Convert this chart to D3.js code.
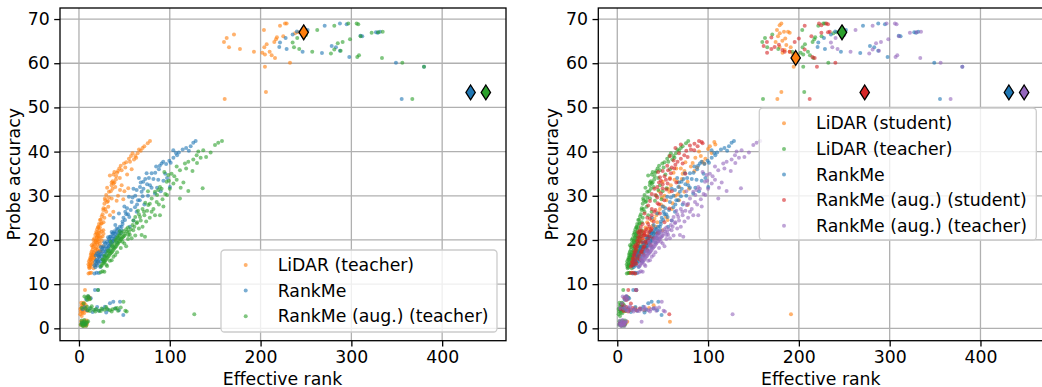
<!DOCTYPE html>
<html>
<head>
<meta charset="utf-8">
<script src="https://cdn.jsdelivr.net/npm/d3@7"></script>
<style>
  html, body { margin: 0; padding: 0; background: #fff; }
  svg { display: block; font-family: "DejaVu Sans", sans-serif; }
</style>
</head>
<body>
<svg id="chart" width="1042" height="387"></svg>
<script>
// Effective rank vs. probe accuracy for each checkpoint, one array per metric/model.
const xTicks = [0, 100, 200, 300, 400];
const yTicks = [0, 10, 20, 30, 40, 50, 60, 70];
const xLabel = "Effective rank";
const yLabel = "Probe accuracy";

// LiDAR (teacher)
const lidarTeacher = [
  [159.7,64.8],[162.7,65.7],[170.7,66.5],[165.2,63.6],[177.3,63.2],[192.7,62.6],[201.9,62.4],[204.1,63.6],[206.7,64.3],[203.7,67.5],
  [215.1,64.8],[217,65.4],[221.4,68.5],[226.9,69],[228.7,69],[225,66.1],[212.2,61.8],[215.9,61.2],[204.8,62],[204.8,59.2],
  [232.4,60.1],[205.9,53.5],[160.5,51.9],[241.5,67],[210,62.6],[218,65.9],[238,66.8],
  [10.5,14.5],[11,15.2],[12,14.8],[12.5,16],[13,15.5],[13.5,17],[14,16.2],[14.5,15],[15,17.8],[15.5,16.6],[16,18.5],[16.5,17.2],
  [17,15.8],[17.5,19],[18,17.6],[18.5,19.8],[19,18.3],[19.5,20.5],[20,19],[20.5,17.8],[21,21],[21.5,19.6],[22,20.2],[22.5,18.6],
  [23,21.5],[24,20.6],[25,22],[16,20],[18,21.2],[20,22.4],[14,18.8],[12,13.8],[13,14.2],[15,14.6],[17,16.4],[19,16.8],[21,17.4],
  [23,19.2],[25,19.8],[26,20.8],[10.5,12.4],[12,12.5],[13.5,12.6],
  [11.5,13.6],[12.5,14.4],[13.5,15.8],[14.5,16.6],[15.5,15.4],[16.5,16],[17.5,17],[18.5,18],[19.5,19.4],[20.5,20],[21.5,21.6],
  [22.5,22.2],[11,14],[12,15.6],[13,16.6],[14,17.4],[15,18.4],[16,19.2],[17,20.4],[18,19.6],[19,21.8],[20,20.8],[21,22.8],[22,23.6],
  [23,22.8],[24,24.6],[25,23.8],[26,25.8],[27,27.2],[28,28.2],[29,29],[31,28.6],[33,29.6],[35,31],[37,31.6],[38,32.8],[39,33],
  [41,34.4],[43,35.6],[45,34],[47,35.8],[51,36.4],[55,38.4],[59,39.6],[63,38.6],[70,40.8],[16,13.6],[18,14.2],[20,15],[22,16.2],
  [24,17.4],[26,18.6],[27,21.4],[23,17.6],
  [21.3,23],[19.5,21.5],[26.8,22.2],[23.1,24.5],[25,25.3],[26.8,26.8],[28.6,29.4],[32.3,27.5],[34.1,25.6],[37.8,26.4],[33,30.9],
  [35.9,32.4],[37.1,33.3],[40.7,33.7],[41.5,28.9],[44.4,36.2],[45.2,31.3],[47,32.4],[48.8,29.2],[49.6,37.3],[54.3,31.7],[56.2,37.7],
  [57.3,39],[60.6,38.2],[64.6,39.6],[66.1,40.5],[75.7,41.9],[78.2,42.4],[30,30.2],[31,31.8],[34,34.6],[36,33],[38,34.8],[39,35.4],
  [42,35.2],[46,36.8],[52,37.6],[53,34.8],[58,36],[62,39],[68,40.2],[29,27],[27,24],[24,23.6],[28,25],[30,26.4],[32,28.8],[36,29.4],
  [43,30],[50,31],[22,20.8],[40,32],[72,41.2],
  [2,0.8],[3,1.0],[4,1.2],[5,0.9],[6,1.3],[7,1.1],[8,1.5],[9,1.0],[3.5,1.4],[6.5,0.7],[2,3.8],[2.5,4.6],[3,5.2],[3.5,4.0],[4,3.6],
  [4.5,4.9],[5,4.3],[6,5.6],[7,4.1],[8,4.6],[1.5,4.4],[6.6,8.7],[10,7.1],[12,7.0],[11,6.6],[9,3.9],[5,5.8],
  [2.5,1.6],[4.5,0.6],[5.5,1.7],[7.5,0.6],[8.5,1.8],[1.5,3.2],[2.5,5.8],[4,5.4],[5.5,3.4],[6.5,4.6],[7.5,5.2],[3,2.8]
];

// RankMe
const rankMe = [
  [221.4,64.7],[220.6,63.7],[227.6,65.7],[235.3,66.5],[228.7,63.2],[246.3,62.6],[251.8,67.5],[270.6,68.5],[287.4,69],[294.8,68.8],
  [267.6,62.3],[278.3,63.9],[283,63.6],[287.4,62.8],[297.7,61.4],[312,66.1],[327.1,67],[331.5,67.1],[349.1,60.1],[380,59.2],
  [355.4,51.9],[329,66.9],[240,67.2],[310,66.2],
  [17,14.3],[18,15],[19,14.6],[20,15.6],[21,15.1],[22,16.2],[23,15.7],[24,16.8],[25,16.3],[26,17.4],[27,16.8],[28,18],[29,17.4],
  [30,18.6],[31,18],[32,19.2],[33,18.6],[34,19.8],[35,19.1],[36,20.3],[37,19.6],[38,20.8],[39,20.2],[40,21.4],[42,21],[20,17],
  [24,18.4],[28,19.5],[32,20.6],[36,21.8],[22,14.8],[26,15.6],[30,16.6],[34,17.5],[38,18.4],[42,19.4],[44,20.4],[46,21.5],
  [18.5,16.5],[23.5,13.9],[27.5,15.2],[17,12.4],[19.5,12.6],[22,12.5],[21,8.7],[17.6,8.7],
  [18,13.8],[19,15.4],[20,14.2],[21,16.4],[22,17.2],[23,16.6],[24,15.2],[25,17.8],[26,18.2],[27,18.6],[28,16.2],[29,19.2],[30,17.4],
  [31,19.6],[32,18.2],[33,20.2],[34,18.8],[35,20.8],[36,19.4],[37,21.4],[38,19.8],[39,22],[40,20.6],[41,21.8],[43,22.4],[44,21.6],
  [45,23],[47,22.2],[48,23.6],[49,25],[51,26.4],[53,27.2],[54,25.8],[57,26.8],[59,29.6],[62,30],[64,28],[67,29],[68,33],[71,31.6],
  [73,33.8],[75,32.6],[77,34],[82,33.8],[84,35.2],[86,31.8],[89,36.8],[93,33.4],[96,37.2],[104,38.6],[110,39.8],[121,40.2],
  [34.1,20.7],[37.8,21.5],[41.5,22.6],[47,23],[50.7,24.5],[55.4,25.2],[58,28.6],[61.7,27.4],[63.5,26.4],[63.5,31.3],[67.2,32],
  [69,30.9],[70.1,29.9],[70.8,33.2],[74.5,35.1],[78.2,32.4],[80,35.1],[83.7,30.5],[85,36.6],[87.3,33.6],[91,37.3],[92.8,37.7],
  [99.5,37.9],[100.2,32],[101,37.5],[103.9,40.3],[106.8,39.7],[114.2,40.5],[123,41.2],[125.9,42],[128.5,42.4],[45,22],[48,24.2],
  [52,25.8],[44,26],[50,27.6],[56,23],[60,24.4],[65,29],[72,28],[76,30],[66,34],[88,36],[95,35],[108,39.2],[118,40.8],[55,29.8],
  [60,31.6],[80,31.8],[90,31],[97,34],[40,23.4],[38,25],
  [3,1.1],[5,1.3],[7,0.9],[4,4.3],[6,4.8],[9,4.1],[12,4.5],[15,3.7],[18,4.2],[22,4],[26,4.4],[28.6,4.9],[32,4.2],[34.1,5.7],
  [37.8,6],[40,4.5],[45.2,6],[48.8,3],[44,4.1],[10,7.2],[13,6.8],[8,6.5],[30,3.6],[20,4.8]
];

// RankMe (aug.) (teacher)
const augTeacher = [
  [240.4,65.7],[235.3,64.7],[236.8,63.6],[242.6,63.2],[256.9,62.6],[262.4,67.5],[281.2,68.5],[296.6,69],[305.8,69],[307.6,68.8],
  [277.5,62.2],[281.2,63.1],[290.4,64.8],[298.5,65.4],[288.2,62.8],[306.5,61.4],[308.4,61.8],[310.2,66.1],[322.3,66.9],[329.6,67],
  [334.5,67.1],[333.7,61.2],[356.1,60.1],[380,59.2],[367.1,51.9],[285,64.5],[250,66.4],
  [25,14.2],[27,14.8],[29,15.3],[31,15.9],[33,16.4],[35,17],[37,17.5],[39,18.1],[41,18.6],[43,19.2],[45,19.7],[47,20.3],[49,20.8],
  [51,21.4],[53,21.9],[28,16.4],[32,17.6],[36,18.8],[40,20],[44,21.1],[30,14.4],[34,15.3],[38,16.2],[42,17.2],[46,18.2],[50,19.2],
  [54,20.2],[56,21.2],[26,15.6],[31,14.1],[36,15.4],[40,16.6],[48,19.6],[52,18.6],[58,20.4],[35,19.6],[45,22],[42,20.6],
  [24,12.7],[26,12.9],[28,12.8],
  [24,14],[26,14.6],[27,15.6],[28,15],[29,16.2],[30,15.6],[31,17],[32,16.2],[33,17.4],[34,16.8],[35,18],[36,17.2],[37,18.6],
  [38,17.8],[39,19.2],[40,18.4],[41,19.8],[42,19],[43,20.4],[44,19.6],[45,21],[46,20.2],[47,21.6],[48,20.6],[49,22],[50,21],
  [52,22.4],[54,22.8],[55,21.8],[57,22.4],[59,23.4],[61,23],[62,25.2],[64,24],[66,25.8],[68,24.4],[70,27],[72,25.6],[73,28.4],
  [75,26.6],[78,28.2],[80,26.4],[86,30.2],[88,28],[91,31.6],[93,27.6],[97,30.2],[99,33.4],[105,34.4],[112,31.8],[118,36.2],
  [130,37.4],[134,38.6],
  [54.3,21.1],[59.8,22.2],[63.5,23.8],[67.2,25.2],[71.6,26.4],[76.3,27.9],[80.1,29.4],[83.7,30.9],[87.3,31.3],[89.2,32],[96.6,33.2],
  [98.4,34.7],[107.6,36.6],[111.2,35.8],[116.7,37.3],[120.4,37.7],[125.9,38.2],[129.6,39.2],[131.4,40],[136.9,40.3],[149.8,41.5],
  [153.4,42],[157.5,42.4],[136.2,31.7],[120.4,31.1],[111.2,29.4],[107.6,33.6],[85.6,28.6],[83.7,25.6],[89.2,25.6],[72.7,20.7],
  [69,21.1],[62,21],[66,22.6],[74,24.2],[78,25],[82,27],[92,29.2],[95,30.4],[100,31.6],[104,32.8],[70,23],[60,24.4],[65,26.6],
  [76,31],[94,35.4],[102,35],[115,33],[125,35.6],[140,38.8],[145,39.8],
  [2,0.8],[3,1.3],[4,0.6],[5,1.1],[6,1.5],[7,0.9],[8,1.2],[9,1.4],[4,0.9],[6,7.2],[8,6.9],[10,7.3],[12,6.6],[21,8.7],[7,4.5],
  [10,4.1],[13,4.6],[16,4.2],[19,4.4],[22,4.0],[25,4.5],[28,4.2],[31,4.4],[34,4.1],[37,4.3],[40,4.5],[43,4.0],[46,4.7],[49,6.0],
  [51,4.0],[52.5,3.8],[26.8,1.5],[127,3.2],[3,4.6],[14,5],[5,5.6],
  [3,1.8],[5,0.5],[6,1.9],[8,0.6],[10,1.6],[9,4.9],[12,3.9],[18,3.8],[24,3.9],[30,4.8],[36,3.8],[42,4.6],[11,7.0],[9,6.4]
];

// LiDAR (student)
const lidarStudent = [
  [178.8,68.6],[180.7,69],[175.9,67.5],[183.6,67.1],[188,67.1],[177,66.1],[181.8,65.1],[186.2,64.1],[174.4,64.8],[178.8,63.7],
  [184.4,63],[189.9,62.6],[193.5,62.1],[194.3,59.2],[180.7,53.5],[176.3,51.9],[189.9,66.9],[179,66.8],[185,65.6],[191,63.6],[182,62.4],
  [15,14.5],[17,15.2],[19,15.8],[21,16.5],[23,17.3],[25,18],[27,18.6],[29,19.4],[31,20],[33,20.8],[20,14.6],[24,15.8],[28,17],
  [32,18.2],[36,19.6],[18,17.2],[22,18.6],[26,19.8],[30,21.2],[34,22.6],[13,12.5],[16,12.6],[19,12.4],[21,8.6],
  [16,14.2],[18,14.8],[20,15.6],[22,16.2],[24,17],[26,17.6],[28,18.4],[30,19],[32,19.6],[34,20.4],[35,21.6],[37,22.4],[39,23.2],
  [41,24.8],[43,25.6],[47,27],[49,29.6],[51,27.6],[54,29],[56,31.6],[59,32.4],[63,33.6],[65,36.2],[67,30.4],[71,33.8],[74,35.6],
  [79,31.6],[83,37.4],[88,36.4],[92,39],[97,38.4],[102,41.2],[17,16.2],[19,17.2],[21,17.8],[23,18.6],[25,19.6],[27,20.4],[29,22],
  [31,22.8],[33,24],
  [42.5,23],[49.9,22.2],[53.6,25.2],[55.4,24.5],[57.3,30.9],[60.9,28.3],[66.4,33.2],[68.3,32],[73.8,30.9],[77.5,33.2],[77.5,27.9],
  [81.1,36.6],[94,37.7],[95.9,37.3],[103.9,39.7],[106.9,42.2],[108,41.6],[38,24.4],[45,26.2],[48,28],[52,30],[58,34],[62,35.2],
  [64,30],[70,36.2],[75,37.6],[86,38.6],[90,40],[100,40.6],[40,21.6],[44,24],[60,27],[68,29],[72,35],[85,35.6],[50,33.2],[46,31],
  [3,1],[5,1.4],[7,0.8],[9,1.2],[11,1.5],[4,4.2],[6,4.7],[9,3.9],[12,4.4],[15,4.1],[20,4.6],[25,4.3],[30,4.1],[35,4.6],[40,5.2],
  [58,1.5],[191.3,3.2],[8,6.8],[11,7.1]
];

// RankMe (aug.) (student)
const augStudent = [
  [206.4,68.5],[222.2,69],[224.8,68.6],[230.3,69],[232.1,68.8],[232.1,67],[234,67.1],[224.8,66.9],[213.8,66.1],[169.7,65.8],
  [164.8,64.8],[161.2,63.9],[173.3,63.7],[169.7,63.2],[184.4,62.6],[181.8,63],[189.9,62.6],[195.4,64.8],[206.4,63.1],[214.9,61.4],
  [217.4,61.2],[219.9,59.2],[240.2,60.1],[211.9,51.9],[165,62.4],[200,65.6],[178,64.2],
  [16,14.3],[17,15],[18,15.7],[19,16.4],[20,17.1],[21,17.8],[22,18.5],[23,19.2],[24,19.9],[25,20.6],[26,21.3],[18,14.4],[20,15.1],
  [22,15.8],[24,16.5],[26,17.2],[28,17.9],[30,18.6],[32,19.3],[34,20],[36,20.7],[21,14.6],[25,15.5],[29,16.6],[33,17.7],[37,18.8],
  [27,19.5],[29,21],[31,22],[23,21.8],[19,18.6],[40,20.4],[15,12.5],[17.5,12.6],[20,12.4],
  [15,14],[16,15],[17,15.8],[18,16.6],[19,17.4],[20,18.2],[21,19],[22,19.8],[23,20.6],[24,21.4],[25,22.2],[26,23],[27,22],[28,20.4],
  [30,21.6],[32,22.4],[34,23.6],[36,24.8],[38,25.6],[40,24.2],[42,26.8],[44,29.6],[46,28],[48,33.4],[50,32.6],[52,34.4],[54,31.4],
  [56,35.8],[58,33.8],[60,36.4],[62,38],[64,37],[68,39.6],[70,38.4],[76,40.2],[80,41.4],[85,41.8],[90,42.4],[30,26],[34,27.8],
  [38,30.4],[41,31.6],[44,32],[47,34.2],[27,17.4],[29,18.4],[31,19.6],[33,21],[35,21.8],[38,22.6],
  [29.8,21.1],[35.3,23],[37,22.2],[44.4,21.5],[40.8,26.4],[57.3,27.1],[44.4,28.3],[51.8,29],[48,30.5],[49.9,31.7],[55.4,32.8],
  [53.6,33.6],[59.1,35.1],[62.8,36.2],[72,37.3],[66.4,37.7],[77.5,38.8],[73.8,39.2],[84.8,40.3],[81.1,40.5],[88.5,41.2],[94,41.9],
  [92.9,42.2],[33,25],[38,27],[42,30.2],[46,33],[50,35.6],[55,36.8],[58,39],[64,40.8],[70,41.6],[36,28.8],[47,26],[52,24],[60,31],
  [65,33],[75,35],[45,35.4],[28,23.6],
  [3,1.1],[5,0.8],[7,1.4],[8,1.0],[12.1,8.7],[20.5,8.7],[8,7],[10,6.4],[6,5.2],[4,4.4],[7,3.9],[10,4.8],[13,4.2],[17,4.6],[21,4.1],
  [25,4.5],[12,3.8],[57.3,3.2],[15,5.6]
];

// Selected checkpoint of each metric
const lidarTeacherPick = [247.5, 67.0];
const rankMePick = [431.3, 53.4];
const augTeacherPick = [448.1, 53.4];
const lidarStudentPick = [196.5, 61.2];
const augStudentPick = [272.5, 53.4];

const C = { blue: "#1f77b4", orange: "#ff7f0e", green: "#2ca02c", red: "#d62728", purple: "#9467bd" };

const panels = [
  {
    left: 60, width: 446,
    series: [
      { name: "LiDAR (teacher)", data: lidarTeacher, pick: lidarTeacherPick, color: C.orange },
      { name: "RankMe", data: rankMe, pick: rankMePick, color: C.blue },
      { name: "RankMe (aug.) (teacher)", data: augTeacher, pick: augTeacherPick, color: C.green }
    ],
    legend: { x: 221, y: 250, w: 276, h: 82, rowY: 265, markX: 245.7, textX: 277.7 }
  },
  {
    left: 598.3, width: 446,
    series: [
      { name: "LiDAR (student)", data: lidarStudent, pick: lidarStudentPick, color: C.orange },
      { name: "LiDAR (teacher)", data: lidarTeacher, pick: lidarTeacherPick, color: C.green },
      { name: "RankMe", data: rankMe, pick: rankMePick, color: C.blue },
      { name: "RankMe (aug.) (student)", data: augStudent, pick: augStudentPick, color: C.red },
      { name: "RankMe (aug.) (teacher)", data: augTeacher, pick: augTeacherPick, color: C.purple }
    ],
    legend: { x: 759.3, y: 108, w: 277, h: 132, rowY: 123.3, markX: 784, textX: 816 }
  }
];

const plotTop = 8, plotBottom = 340.7;
const fontSize = 17.3;
const dotR = 2.0;
const svg = d3.select("#chart");

panels.forEach((p, pi) => {
  const x = d3.scaleLinear().domain([-20.9, 470.3]).range([p.left, p.left + p.width]);
  const y = d3.scaleLinear().domain([-2.8, 72.5]).range([plotBottom, plotTop]);
  const g = svg.append("g");

  const clipId = "clip" + pi;
  svg.append("clipPath").attr("id", clipId).append("rect")
    .attr("x", p.left).attr("y", plotTop).attr("width", p.width).attr("height", plotBottom - plotTop);

  // grid
  const grid = g.append("g").attr("stroke", "#b0b0b0").attr("stroke-width", 1.3);
  grid.selectAll(".gx").data(xTicks).join("line")
    .attr("x1", d => x(d)).attr("x2", d => x(d)).attr("y1", plotTop).attr("y2", plotBottom);
  grid.selectAll(".gy").data(yTicks).join("line")
    .attr("x1", p.left).attr("x2", p.left + p.width).attr("y1", d => y(d)).attr("y2", d => y(d));

  // scatter points
  const pts = g.append("g").attr("clip-path", `url(#${clipId})`);
  p.series.forEach(s => {
    pts.append("g").attr("fill", s.color).attr("fill-opacity", 0.6)
      .selectAll("circle").data(s.data).join("circle")
      .attr("cx", d => x(d[0])).attr("cy", d => y(d[1])).attr("r", dotR);
  });

  // selected checkpoints as diamonds
  pts.append("g").selectAll("path").data(p.series).join("path")
    .attr("d", s => {
      const cx = x(s.pick[0]), cy = y(s.pick[1]), hw = 4.7, hh = 7.4;
      return `M${cx},${cy - hh}L${cx + hw},${cy}L${cx},${cy + hh}L${cx - hw},${cy}Z`;
    })
    .attr("fill", s => s.color)
    .attr("stroke", "#000").attr("stroke-width", 1.3).attr("stroke-linejoin", "miter");

  // axes
  const xAxis = d3.axisBottom(x).tickValues(xTicks).tickSize(5.8).tickPadding(4.5).tickFormat(d3.format("d"));
  const yAxis = d3.axisLeft(y).tickValues(yTicks).tickSize(5.8).tickPadding(4.5).tickFormat(d3.format("d"));
  const ax = g.append("g").attr("transform", `translate(0,${plotBottom})`).call(xAxis);
  const ay = g.append("g").attr("transform", `translate(${p.left},0)`).call(yAxis);
  [ax, ay].forEach(a => {
    a.select(".domain").remove();
    a.selectAll(".tick line").attr("stroke", "#000").attr("stroke-width", 1.3);
    a.selectAll(".tick text").attr("fill", "#000")
      .style("font-family", "DejaVu Sans").style("font-size", fontSize + "px");
  });

  // spines
  g.append("rect").attr("x", p.left).attr("y", plotTop).attr("width", p.width).attr("height", plotBottom - plotTop)
    .attr("fill", "none").attr("stroke", "#000").attr("stroke-width", 1.3);

  // axis labels
  g.append("text").attr("x", p.left + p.width / 2 - 0.5).attr("y", 384.5)
    .attr("text-anchor", "middle").style("font-size", fontSize + "px").text(xLabel);
  const ylx = pi === 0 ? 19.5 : 558;
  g.append("text").attr("transform", `translate(${ylx},${(plotTop + plotBottom) / 2}) rotate(-90)`)
    .attr("text-anchor", "middle").style("font-size", fontSize + "px").text(yLabel);

  // legend
  const L = p.legend;
  const lg = g.append("g");
  lg.append("rect").attr("x", L.x).attr("y", L.y).attr("width", L.w).attr("height", L.h)
    .attr("rx", 3.5).attr("fill", "#fff").attr("fill-opacity", 0.8)
    .attr("stroke", "#cccccc").attr("stroke-width", 1.3);
  p.series.forEach((s, i) => {
    const ry = L.rowY + i * 25.6;
    lg.append("circle").attr("cx", L.markX).attr("cy", ry).attr("r", dotR)
      .attr("fill", s.color).attr("fill-opacity", 0.6);
    lg.append("text").attr("x", L.textX).attr("y", ry + 6)
      .style("font-size", fontSize + "px").text(s.name);
  });
});
</script>
</body>
</html>
